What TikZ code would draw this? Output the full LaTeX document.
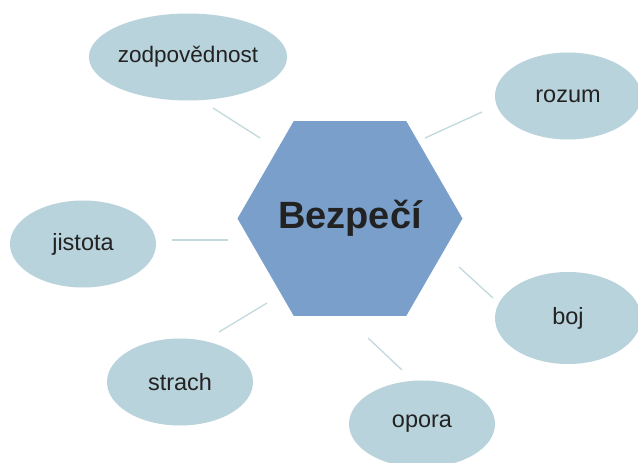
\documentclass[tikz,border=0pt]{standalone}
\usepackage{fontspec}
\setmainfont{Liberation Sans}
\usetikzlibrary{shapes.geometric}
\definecolor{ellfill}{HTML}{B8D3DB}
\definecolor{hexfill}{HTML}{7B9FCB}
\definecolor{linkcol}{HTML}{C2D9DE}
\definecolor{txt}{HTML}{222222}
\begin{document}
\begin{tikzpicture}[x=1pt,y=-1pt,
  bubble/.style={ellipse,fill=ellfill,draw=none,minimum width=146pt,minimum height=87pt,inner sep=0pt,text=txt,font=\fontsize{23.5}{25}\selectfont},
  hexa/.style={regular polygon,regular polygon sides=6,minimum size=225pt,inner sep=0pt,outer sep=0pt,fill=hexfill,draw=none},
  hexlabel/.style={text=txt,font=\fontsize{38}{40}\selectfont\bfseries,inner sep=0pt},
  link/.style={draw=linkcol,line width=1.3pt}]
\useasboundingbox (0,0) rectangle (638,463);
\clip (0,0) rectangle (638,463);
\fill[white] (0,0) rectangle (638,463);
\node[hexa,label={[hexlabel]center:Bezpečí}] (hex) at (350,218.5) {};
\node[bubble,font=\fontsize{22.5}{25}\selectfont] (zod) at (188,57) {zodpovědnost};
\node[bubble] (roz) at (568,96) {rozum};
\node[bubble] (jis) at (83,244) {jistota};
\node[bubble,minimum height=92pt] (boj) at (568,318) {boj};
\node[bubble] (str) at (180,382) {strach};
\node[bubble] (opo) at (422,424) {opora};
\coordinate (z1) at (213,108); \coordinate (z2) at (260,138);
\coordinate (r1) at (425,138); \coordinate (r2) at (482,112);
\coordinate (j1) at (172,240); \coordinate (j2) at (228,240);
\coordinate (b1) at (459,267); \coordinate (b2) at (493,298);
\coordinate (s1) at (219,332); \coordinate (s2) at (267,303);
\coordinate (o1) at (368,338); \coordinate (o2) at (402,370);
\draw[link] (z1) -- (z2);
\draw[link] (r1) -- (r2);
\draw[link] (j1) -- (j2);
\draw[link] (b1) -- (b2);
\draw[link] (s1) -- (s2);
\draw[link] (o1) -- (o2);
\end{tikzpicture}
\end{document}
